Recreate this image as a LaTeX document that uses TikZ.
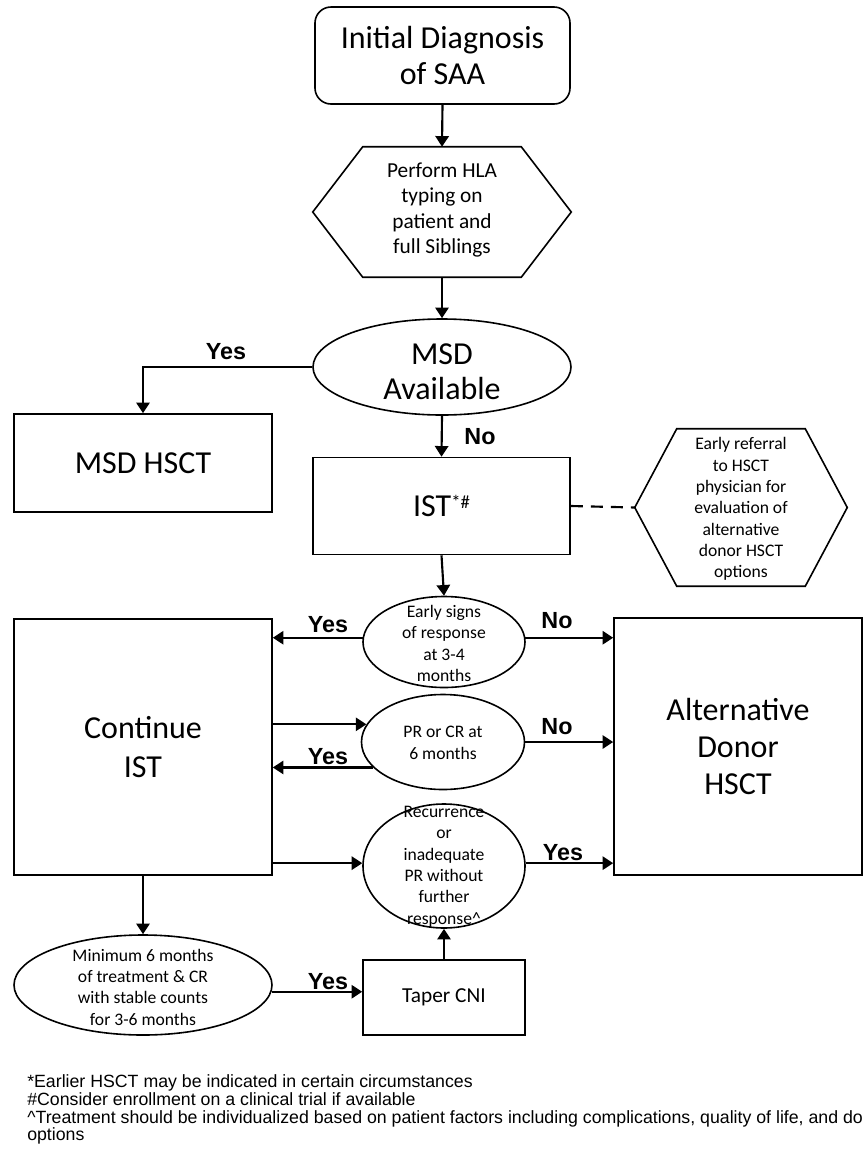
\documentclass[tikz,border=0pt]{standalone}
\usepackage{fontspec}
\setmainfont{Carlito}
\newfontfamily\arialf{Liberation Sans}
\usetikzlibrary{shapes.geometric,arrows.meta,calc}
\begin{document}
\begin{tikzpicture}[x=0.75pt,y=-0.75pt,
 base/.style={draw, line width=1.2pt, align=center, inner sep=0pt},
 bigtxt/.style={font=\fontsize{24}{26.5}\selectfont},
 midtxt/.style={font=\fontsize{16}{18.8}\selectfont},
 smalltxt/.style={font=\fontsize{13.2}{16}\selectfont, align=center, inner sep=0pt},
 rbox/.style={base, rectangle},
 ell/.style={base, ellipse},
 arr/.style={-{Triangle[width=10pt,length=8pt]}, line width=1.6pt},
 lbl/.style={font=\arialf\bfseries\fontsize{17.5}{20}\selectfont, inner sep=0pt},
 fn/.style={font=\arialf\fontsize{13.3}{14}\selectfont, anchor=base west, inner sep=0pt}
]
\fill[white] (0,0) rectangle (863,1154);
\useasboundingbox (0,0) rectangle (863,1154);

% nodes
\node[rbox, bigtxt, rounded corners=12pt, minimum width=191.25pt, minimum height=72.75pt] (init) at (442.5,55.5) {Initial Diagnosis\\of SAA};

\node[inner sep=0pt, minimum width=193.5pt, minimum height=97.5pt] (hla) at (442,212) {};
\node[midtxt, align=center, inner sep=0pt] (hlat) at (442,210) {Perform HLA\\typing on\\patient and\\full Siblings};

\node[ell, minimum width=193.5pt, minimum height=72pt] (msd) at (442,367) {};
\node[bigtxt, align=center, inner sep=0pt] (msdt) at (442,372) {MSD\\Available};

\node[rbox, bigtxt, minimum width=193.5pt, minimum height=73.5pt] (msdhsct) at (143,463) {MSD HSCT};

\node[rbox, bigtxt, minimum width=192.75pt, minimum height=72.75pt] (ist) at (441.5,506) {IST\raisebox{6.5pt}{\fontsize{14}{14}\selectfont *\#}};

\node[inner sep=0pt, minimum width=159pt, minimum height=117.75pt] (ref) at (741,507.5) {};
\node[smalltxt] (reft) at (741,509) {Early referral\\to HSCT\\physician for\\evaluation of\\alternative\\donor HSCT\\options};

\node[ell, minimum width=121.5pt, minimum height=68.25pt] (early) at (444,642) {};
\node[smalltxt] (earlyt) at (444,643.5) {Early signs\\of response\\at 3-4\\months};

\node[rbox, bigtxt, font=\fontsize{24}{29.5}\selectfont, minimum width=193.5pt, minimum height=192pt] (cont) at (143,747) {Continue\\IST};

\node[rbox, bigtxt, font=\fontsize{24}{28}\selectfont, minimum width=186pt, minimum height=192.75pt] (alt) at (738,746.5) {Alternative\\Donor\\HSCT};

\node[ell, minimum width=122.25pt, minimum height=71.25pt] (pr) at (443,742) {};
\node[smalltxt] (prt) at (443,743) {PR or CR at\\6 months};

\node[ell, minimum width=121.5pt, minimum height=93pt] (rec) at (444,866) {};
\node[smalltxt] (rect) at (444,866.5) {Recurrence\\or\\inadequate\\PR without\\further\\response\textasciicircum};

\node[ell, minimum width=193.5pt, minimum height=75pt] (minn) at (143,985) {};
\node[smalltxt] (minnt) at (143,987) {Minimum 6 months\\of treatment \& CR\\with stable counts\\for 3-6 months};

\node[rbox, font=\fontsize{16}{19}\selectfont, minimum width=121.5pt, minimum height=56.25pt] (taper) at (444,997.5) {Taper CNI};

% hexagons
\draw[line width=1.2pt] (hla.west) -- ($(hla.north west)+(50,0)$) -- ($(hla.north east)+(-50,0)$) -- (hla.east) -- ($(hla.south east)+(-50,0)$) -- ($(hla.south west)+(50,0)$) -- cycle;
\draw[line width=1.2pt] (ref.west) -- ($(ref.north west)+(42,0)$) -- ($(ref.north east)+(-42,0)$) -- (ref.east) -- ($(ref.south east)+(-42,0)$) -- ($(ref.south west)+(42,0)$) -- cycle;

% connectors
\draw[arr] (init.south) -- (hla.north);
\draw[arr] (hla.south) -- (msd.north);
\draw[arr] (msd.west) -| (msdhsct.north);
\draw[arr] (msd.south) -- (ist.north);
\draw[line width=1.6pt, dash pattern=on 9pt off 6pt] (ist.east) -- (ref.west);
\draw[arr] (ist.south) -- (early.north);
\draw[arr] (early.177) -- (early.177 -| cont.east);
\draw[arr] (early.3) -- (early.3 -| alt.west);
\draw[arr] (pr.167 -| cont.east) -- (pr.167);
\draw[arr] (pr.200) -- (pr.200 -| cont.east);
\draw[arr] (pr.east) -- (pr.east -| alt.west);
\draw[arr] (rec.178 -| cont.east) -- (rec.178);
\draw[arr] (rec.2) -- (rec.2 -| alt.west);
\draw[arr] (cont.south) -- (minn.north);
\draw[arr] (minn.-3) -- (minn.-3 -| taper.west);
\draw[arr] (taper.north) -- (rec.south);

% labels
\node[lbl] (y1) at (226,352) {Yes};
\node[lbl] (n1) at (480,437) {No};
\node[lbl] (y2) at (328,625) {Yes};
\node[lbl] (n2) at (557,621) {No};
\node[lbl] (n3) at (557,727) {No};
\node[lbl] (y3) at (328,757) {Yes};
\node[lbl] (y4) at (563,853) {Yes};
\node[lbl] (y5) at (328,982) {Yes};

% footnotes
\node[fn] (f1) at (27,1087) {*Earlier HSCT may be indicated in certain circumstances};
\node[fn] (f2) at (27,1105) {\#Consider enrollment on a clinical trial if available};
\node[fn] (f3) at (27,1123) {\textasciicircum Treatment should be individualized based on patient factors including complications, quality of life, and do};
\node[fn] (f4) at (27,1140) {options};
\end{tikzpicture}
\end{document}
